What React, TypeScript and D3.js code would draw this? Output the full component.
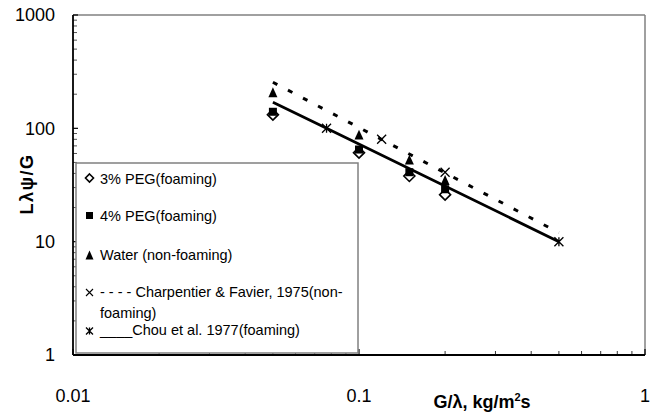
import React from "react";
import * as d3 from "d3";

const W = 656;
const H = 417;

// experimental data
const xExp = [0.05, 0.1, 0.15, 0.2];
const peg3 = [132, 61, 38, 26];
const peg4 = [140, 65, 41, 29];
const water = [208, 88, 53, 35];

// Charpentier & Favier 1975 (dashed correlation + X markers)
const charpLineX = [0.05, 0.5];
const charpLineY = [255, 12];
const charpMarkX = [0.12, 0.2];
const charpMarkY = [80, 41];

// Chou et al. 1977 (solid correlation + asterisk markers)
const chouLineX = [0.05, 0.077, 0.5];
const chouLineY = [170, 100, 10];
const chouMarkX = [0.077, 0.5];
const chouMarkY = [100, 10];

const xTicks = [0.01, 0.1, 1];
const xTickLabels = ["0.01", "0.1", "1"];
const yTicks = [1, 10, 100, 1000];
const yTickLabels = ["1", "10", "100", "1000"];

const legendLabels = [
  "3% PEG(foaming)",
  "4% PEG(foaming)",
  "Water (non-foaming)",
  "- - - - Charpentier & Favier, 1975(non-",
  "____Chou et al. 1977(foaming)",
];

const M = { left: 73, right: 645, top: 15, bottom: 355 };
const FONT = "'Liberation Sans', Arial, sans-serif";

function Diamond({ x, y, r }: { x: number; y: number; r: number }) {
  return (
    <path
      d={`M${x},${y - r}L${x + r},${y}L${x},${y + r}L${x - r},${y}Z`}
      fill="#fff"
      stroke="#000"
      strokeWidth={1.6}
    />
  );
}
function Square({ x, y, s }: { x: number; y: number; s: number }) {
  return <rect x={x - s / 2} y={y - s / 2} width={s} height={s} fill="#000" />;
}
function Tri({ x, y, s }: { x: number; y: number; s: number }) {
  const h = s * 1.1;
  return (
    <path
      d={`M${x},${y - h / 2}L${x + s / 2},${y + h / 2}L${x - s / 2},${y + h / 2}Z`}
      fill="#000"
    />
  );
}
function Cross({ x, y, r, w = 1.3 }: { x: number; y: number; r: number; w?: number }) {
  return (
    <path
      d={`M${x - r},${y - r}L${x + r},${y + r}M${x - r},${y + r}L${x + r},${y - r}`}
      stroke="#000"
      strokeWidth={w}
      fill="none"
    />
  );
}
function Star({ x, y, r }: { x: number; y: number; r: number }) {
  return (
    <path
      d={`M${x - r},${y - r}L${x + r},${y + r}M${x - r},${y + r}L${x + r},${y - r}M${x},${y - r}L${x},${y + r}`}
      stroke="#000"
      strokeWidth={1.3}
      fill="none"
    />
  );
}

export default function App() {
  const x = d3.scaleLog().domain([0.01, 1]).range([M.left, M.right]);
  const y = d3.scaleLog().domain([1, 1000]).range([M.bottom, M.top]);

  const line = d3
    .line<[number, number]>()
    .x((d) => x(d[0]))
    .y((d) => y(d[1]));

  const charpPath = line(charpLineX.map((v, i) => [v, charpLineY[i]]));
  const chouPath = line(chouLineX.map((v, i) => [v, chouLineY[i]]));

  const xMinor: number[] = [];
  [0.01, 0.1].forEach((b) => {
    for (let k = 2; k <= 9; k++) xMinor.push(b * k);
  });
  const yMinor: number[] = [];
  [1, 10, 100].forEach((b) => {
    for (let k = 2; k <= 9; k++) yMinor.push(b * k);
  });

  const legendBox = { x: 76, y: 163, w: 282, h: 190 };
  const legendBaselines = [184, 221, 260, 297, 335];
  const symX = 89.5;

  return (
    <svg
      width={W}
      height={H}
      style={{ position: "absolute", left: 0, top: 0, background: "#fff" }}
      fontFamily={FONT}
    >
      <rect width={W} height={H} fill="#fff" />
      {/* frame */}
      <line x1={M.left} x2={M.right} y1={M.top} y2={M.top} stroke="#808080" strokeWidth={1.5} />
      <line x1={M.right} x2={M.right} y1={M.top} y2={M.bottom} stroke="#808080" strokeWidth={1.5} />

      {/* y ticks */}
      {yTicks.map((t) => (
        <line key={"yt" + t} x1={M.left} x2={M.left + 5} y1={y(t)} y2={y(t)} stroke="#000" strokeWidth={1.2} />
      ))}
      {yMinor.map((t) => (
        <line key={"ym" + t} x1={M.left} x2={M.left + 4} y1={y(t)} y2={y(t)} stroke="#555" strokeWidth={1} />
      ))}
      {/* x ticks */}
      {xTicks.map((t) => (
        <line key={"xt" + t} x1={x(t)} x2={x(t)} y1={M.bottom} y2={M.bottom - 6} stroke="#000" strokeWidth={1.2} />
      ))}
      {xMinor.map((t) => (
        <line key={"xm" + t} x1={x(t)} x2={x(t)} y1={M.bottom} y2={M.bottom - 4} stroke="#333" strokeWidth={1} />
      ))}

      {/* correlations */}
      <path d={charpPath || ""} fill="none" stroke="#000" strokeWidth={3} strokeDasharray="5,12" />
      <path d={chouPath || ""} fill="none" stroke="#000" strokeWidth={2.8} />

      {/* markers */}
      {xExp.map((v, i) => (
        <Diamond key={"d" + i} x={x(v)} y={y(peg3[i])} r={5.5} />
      ))}
      {xExp.map((v, i) => (
        <Square key={"s" + i} x={x(v)} y={y(peg4[i])} s={8} />
      ))}
      {xExp.map((v, i) => (
        <Tri key={"t" + i} x={x(v)} y={y(water[i])} s={9} />
      ))}
      {charpMarkX.map((v, i) => (
        <Cross key={"c" + i} x={x(v)} y={y(charpMarkY[i])} r={4.5} />
      ))}
      {chouMarkX.map((v, i) => (
        <Star key={"a" + i} x={x(v)} y={y(chouMarkY[i])} r={4.5} />
      ))}

      {/* axes */}
      <line x1={M.left} x2={M.left} y1={M.top} y2={M.bottom} stroke="#000" strokeWidth={1.8} />
      <line x1={M.left} x2={M.right} y1={M.bottom} y2={M.bottom} stroke="#000" strokeWidth={1.8} />

      {/* legend */}
      <rect
        x={legendBox.x}
        y={legendBox.y}
        width={legendBox.w}
        height={legendBox.h}
        fill="#fff"
        stroke="#808080"
        strokeWidth={1.5}
      />
      <Diamond x={symX} y={legendBaselines[0] - 6} r={4} />
      <Square x={symX} y={legendBaselines[1] - 5.5} s={7} />
      <Tri x={symX} y={legendBaselines[2] - 5} s={8} />
      <Cross x={symX} y={legendBaselines[3] - 4.5} r={3.5} w={1.1} />
      <Star x={symX} y={legendBaselines[4] - 4} r={3.5} />
      {legendLabels.map((l, i) => (
        <text key={"l" + i} x={100} y={legendBaselines[i]} fontSize={14.5} fill="#000">
          {l}
        </text>
      ))}
      <text x={100} y={318} fontSize={14.5} fill="#000">
        foaming)
      </text>

      {/* tick labels */}
      {yTicks.map((t, i) => (
        <text
          key={"yl" + t}
          x={55}
          y={y(t)}
          dy="0.36em"
          textAnchor="end"
          fontSize={18}
          fill="#000"
        >
          {yTickLabels[i]}
        </text>
      ))}
      {xTicks.map((t, i) => (
        <text key={"xl" + t} x={x(t)} y={401.5} textAnchor="middle" fontSize={18} fill="#000">
          {xTickLabels[i]}
        </text>
      ))}

      {/* axis titles */}
      <text x={482} y={408} textAnchor="middle" fontSize={18} fontWeight="bold" fill="#000">
        G/λ, kg/m<tspan fontSize={11} dy={-7}>2</tspan>
        <tspan dy={7}>s</tspan>
      </text>
      <text
        transform={`translate(33,184) rotate(-90)`}
        textAnchor="middle"
        fontSize={18}
        fontWeight="bold"
        letterSpacing={1.5}
        fill="#000"
      >
        Lλψ/G
      </text>
    </svg>
  );
}
